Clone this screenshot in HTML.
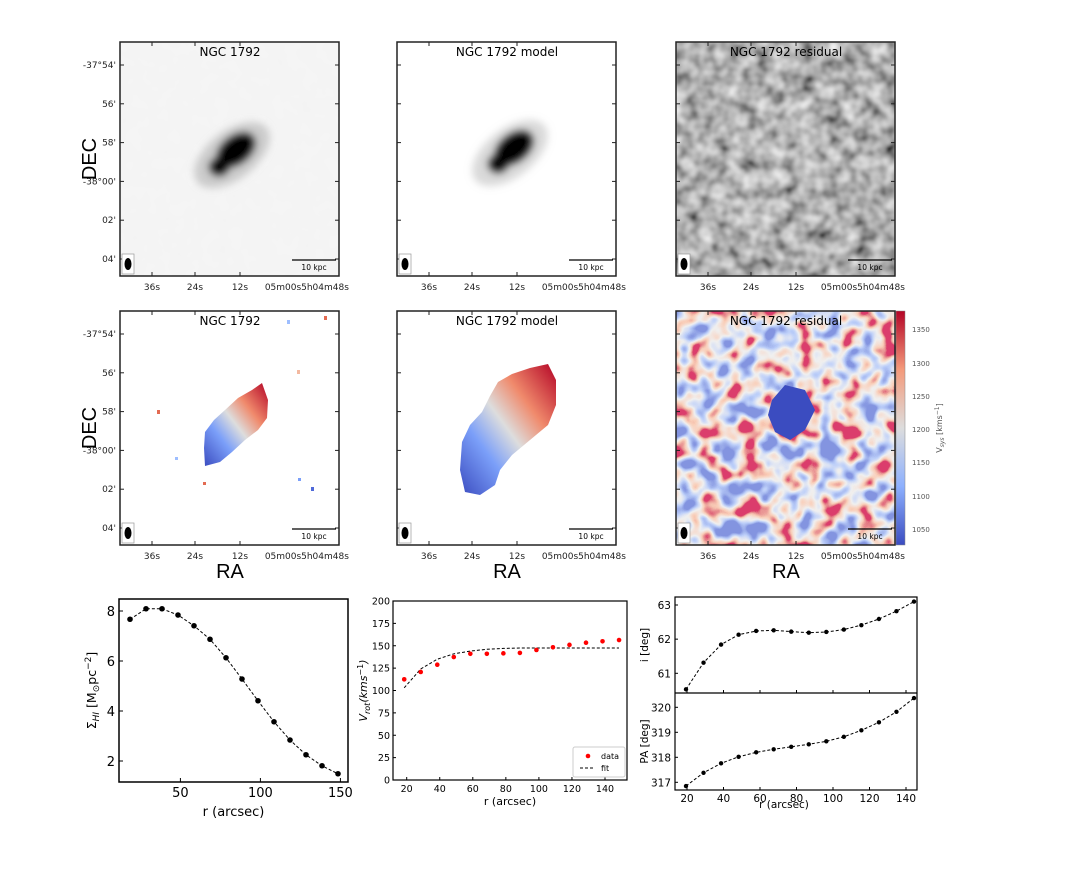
<!DOCTYPE html>
<html><head><meta charset="utf-8">
<style>
html,body{margin:0;padding:0;background:#fff;}
svg{display:block;font-family:"DejaVu Sans","Liberation Sans",sans-serif;}
</style></head>
<body>
<svg id="fig" width="1090" height="872" viewBox="0 0 1090 872" xmlns="http://www.w3.org/2000/svg">
<defs>
  <filter id="greyNoiseLight" x="0" y="0" width="100%" height="100%">
    <feTurbulence type="fractalNoise" baseFrequency="0.07" numOctaves="2" seed="3"/>
    <feColorMatrix type="matrix" values="0 0 0 0 0.92  0 0 0 0 0.92  0 0 0 0 0.92  -0.9 0 0 0 0.9"/>
  </filter>
  <filter id="greyNoise" x="0" y="0" width="100%" height="100%">
    <feTurbulence type="fractalNoise" baseFrequency="0.07" numOctaves="2" seed="7"/>
    <feColorMatrix type="matrix" values="1.1 0 0 0 -0.12  1.1 0 0 0 -0.12  1.1 0 0 0 -0.12  0 0 0 0 1"/>
    <feGaussianBlur stdDeviation="0.8"/>
  </filter>
  <filter id="velNoise" x="0" y="0" width="100%" height="100%">
    <feTurbulence type="fractalNoise" baseFrequency="0.05" numOctaves="2" seed="11"/>
    <feColorMatrix type="matrix" values="1 0 0 0 0  1 0 0 0 0  1 0 0 0 0  0 0 0 0 1"/>
    <feComponentTransfer>
      <feFuncR type="table" tableValues="0.23 0.23 0.23 0.23 0.5 0.87 0.95 0.71 0.71 0.71 0.71"/>
      <feFuncG type="table" tableValues="0.30 0.30 0.30 0.30 0.62 0.87 0.62 0.05 0.05 0.05 0.05"/>
      <feFuncB type="table" tableValues="0.75 0.75 0.75 0.75 0.95 0.87 0.48 0.15 0.15 0.15 0.15"/>
    </feComponentTransfer>
  </filter>
  <filter id="blur4"><feGaussianBlur stdDeviation="4"/></filter>
  <filter id="blur6"><feGaussianBlur stdDeviation="7"/></filter>
  <linearGradient id="velGrad" x1="0" y1="1" x2="1" y2="0">
    <stop offset="0" stop-color="#3b4cc0"/>
    <stop offset="0.3" stop-color="#7b9ff9"/>
    <stop offset="0.5" stop-color="#dddddd"/>
    <stop offset="0.7" stop-color="#f08a6c"/>
    <stop offset="1" stop-color="#b40426"/>
  </linearGradient>
  <linearGradient id="cbarGrad" x1="0" y1="1" x2="0" y2="0">
    <stop offset="0" stop-color="#3b4cc0"/>
    <stop offset="0.25" stop-color="#8db0fe"/>
    <stop offset="0.5" stop-color="#dddddd"/>
    <stop offset="0.75" stop-color="#f49a7b"/>
    <stop offset="1" stop-color="#b40426"/>
  </linearGradient>
  <clipPath id="cTL"><rect x="120" y="42" width="219" height="234"/></clipPath>
  <clipPath id="cTM"><rect x="397" y="42" width="219" height="234"/></clipPath>
  <clipPath id="cTR"><rect x="676" y="42" width="219" height="234"/></clipPath>
  <clipPath id="cMR"><rect x="676" y="311" width="220" height="234"/></clipPath>
</defs>

<g>
  <rect x="120" y="42" width="219" height="234" fill="#f3f3f3"/>
  <rect x="120" y="42" width="219" height="234" filter="url(#greyNoiseLight)"/>
  <g clip-path="url(#cTL)" filter="url(#blur4)">
    <ellipse cx="232" cy="155" rx="44" ry="24" transform="rotate(-38 232 155)" fill="#aaa" opacity="0.55"/>
    <ellipse cx="236" cy="150" rx="22" ry="14" transform="rotate(-38 236 150)" fill="#000"/>
    <ellipse cx="219" cy="167" rx="10" ry="9" fill="#000"/>
  </g>
</g>
<g>
  <rect x="397" y="42" width="219" height="234" fill="#fff"/>
  <g clip-path="url(#cTM)" filter="url(#blur4)">
    <ellipse cx="510" cy="153" rx="44" ry="24" transform="rotate(-38 510 153)" fill="#aaa" opacity="0.45"/>
    <ellipse cx="514" cy="148" rx="22" ry="14" transform="rotate(-38 514 148)" fill="#000"/>
    <ellipse cx="498" cy="164" rx="10" ry="9" fill="#000"/>
  </g>
</g>
<g>
  <rect x="676" y="42" width="219" height="234" filter="url(#greyNoise)"/>
  <ellipse cx="770" cy="170" rx="70" ry="45" transform="rotate(-30 770 170)" fill="#fff" opacity="0.12" filter="url(#blur6)" clip-path="url(#cTR)"/>
</g>

<g>
  <rect x="120" y="311" width="219" height="234" fill="#fff"/>
  <path d="M204,448 L205,432 L214,420 L225,410 L238,398 L252,390 L262,383 L268,400 L267,418 L258,430 L245,440 L232,452 L220,462 L205,466 Z" fill="url(#velGrad)"/>
  <rect x="157" y="410" width="3" height="4" fill="#e36b52"/>
  <rect x="297" y="370" width="3" height="4" fill="#f3b9a0"/>
  <rect x="203" y="482" width="3" height="3" fill="#e36b52"/>
  <rect x="311" y="487" width="3" height="4" fill="#4f69d9"/>
  <rect x="298" y="478" width="3" height="3" fill="#7b9ff9"/>
  <rect x="324" y="316" width="3" height="4" fill="#e36b52"/>
  <rect x="287" y="320" width="3" height="4" fill="#9ebeff"/>
  <rect x="175" y="457" width="3" height="3" fill="#9ebeff"/>
</g>
<g>
  <rect x="397" y="311" width="219" height="234" fill="#fff"/>
  <path d="M460,470 L462,442 L470,425 L482,412 L490,396 L498,382 L512,374 L530,368 L548,364 L556,380 L556,405 L548,425 L530,440 L512,455 L500,470 L495,485 L480,495 L465,492 Z" fill="url(#velGrad)"/>
</g>
<g>
  <rect x="676" y="311" width="220" height="234" filter="url(#velNoise)"/>
  <path d="M772,400 L785,385 L805,390 L815,410 L805,430 L790,440 L775,432 L768,415 Z" fill="#3b4cc0" clip-path="url(#cMR)"/>
</g>
<g>
  <rect x="896" y="311" width="9" height="234" fill="url(#cbarGrad)" stroke="#888" stroke-width="0.5"/>
  <g font-size="7" fill="#555">
    <text x="912" y="532">1050</text><text x="912" y="499">1100</text><text x="912" y="465">1150</text>
    <text x="912" y="432">1200</text><text x="912" y="399">1250</text><text x="912" y="366">1300</text>
    <text x="912" y="332">1350</text>
  </g>
  <text transform="translate(942,428) rotate(-90)" font-size="8" fill="#555" text-anchor="middle">V<tspan font-size="6" dy="2" font-style="italic">sys</tspan><tspan dy="-2"> [kms</tspan><tspan font-size="6" dy="-3">−1</tspan><tspan dy="3">]</tspan></text>
</g>

<g id="mapDecor"></g>
<g id="bottomCharts"></g>
</svg>

<script>
const radii = [18.5, 28.5, 38.5, 48.5, 58.5, 68.5, 78.5, 88.5, 98.5, 108.5, 118.5, 128.5, 138.5, 148.5];
const sigmaHI = [7.67, 8.09, 8.09, 7.84, 7.41, 6.87, 6.13, 5.28, 4.41, 3.57, 2.84, 2.25, 1.81, 1.49];
const vrotData = [112.5, 120.7, 128.8, 137.4, 141.0, 141.0, 141.5, 142.0, 145.3, 148.3, 151.0, 153.4, 155.0, 156.4];
const vrotFit = [103, 124, 135, 141, 144, 146, 147, 147.5, 147.5, 147.5, 147.5, 147.5, 147.5, 147.5];
const inclination = [60.53, 61.31, 61.84, 62.13, 62.24, 62.26, 62.22, 62.19, 62.21, 62.28, 62.41, 62.59, 62.82, 63.1];
const posAngle = [316.85, 317.38, 317.76, 318.02, 318.2, 318.32, 318.42, 318.52, 318.64, 318.82, 319.08, 319.4, 319.82, 320.37];
const sigmaTicks = [2, 4, 6, 8];
const sigmaXTicks = [50, 100, 150];
const vrotTicks = [0, 25, 50, 75, 100, 125, 150, 175, 200];
const rTicks = [20, 40, 60, 80, 100, 120, 140];
const incTicks = [61, 62, 63];
const paTicks = [317, 318, 319, 320];
const decLabels = ["-37°54'", "56'", "58'", "-38°00'", "02'", "04'"];
const raLabels = ["36s", "24s", "12s", "05m00s", "5h04m48s"];
const mapTitles = ["NGC 1792", "NGC 1792 model", "NGC 1792 residual"];

const NS = "http://www.w3.org/2000/svg";
function mk(tag, attrs, parent, text) {
  const e = document.createElementNS(NS, tag);
  for (const k in attrs) e.setAttribute(k, attrs[k]);
  if (text !== undefined) e.textContent = text;
  parent.appendChild(e);
  return e;
}
function lin(d0, d1, p0, p1) { return v => p0 + (v - d0) * (p1 - p0) / (d1 - d0); }

const deco = document.getElementById('mapDecor');
const colsX = [120, 397, 676];
const rowsY = [42, 311];
const decY = lin(0, 5, 65, 259);
const raX = [32, 75, 120, 163, 205];
rowsY.forEach((y0, ri) => {
  colsX.forEach((x0, ci) => {
    const g = mk('g', {}, deco);
    
    
    mk('rect', {x: x0, y: y0, width: 219, height: 234, fill: 'none', stroke: '#222', 'stroke-width': 1.5}, g);
    const t = mk('text', {x: x0 + 110, y: y0 + 14, 'font-size': 12, 'text-anchor': 'middle', fill: '#000'}, g, mapTitles[ci]);
    
    
    decLabels.forEach((lab, i) => {
      const yy = decY(i) - 65 + y0 + 23;
      mk('line', {x1: x0, x2: x0 + 4, y1: yy, y2: yy, stroke: '#222'}, g);
      mk('line', {x1: x0 + 219, x2: x0 + 215, y1: yy, y2: yy, stroke: '#222'}, g);
      if (ci === 0) {
        const tl = mk('text', {x: x0 - 4, y: yy + 3, 'font-size': 9, 'text-anchor': 'end', fill: '#222'}, g, lab);
        
        
      }
    });
    raLabels.forEach((lab, i) => {
      const xx = x0 + raX[i];
      if (i < 3) {
        mk('line', {x1: xx, x2: xx, y1: y0 + 234, y2: y0 + 230, stroke: '#222'}, g);
        mk('line', {x1: xx, x2: xx, y1: y0, y2: y0 + 4, stroke: '#222'}, g);
      }
      const tl = mk('text', {x: xx, y: y0 + 248, 'font-size': 9, 'text-anchor': 'middle', fill: '#222'}, g, lab);
      
      
    });
    mk('rect', {x: x0 + 2, y: y0 + 212, width: 12, height: 20, fill: '#fff', stroke: '#999', 'stroke-width': 0.7}, g);
    mk('ellipse', {cx: x0 + 8, cy: y0 + 222, rx: 3.5, ry: 6, fill: '#000'}, g);
    mk('line', {x1: x0 + 172, x2: x0 + 216, y1: y0 + 218, y2: y0 + 218, stroke: '#000', 'stroke-width': 1.2}, g);
    mk('text', {x: x0 + 194, y: y0 + 228, 'font-size': 7.5, 'text-anchor': 'middle', fill: '#000'}, g, '10 kpc');
  });
  const dl = mk('text', {transform: `translate(96,${y0 + 117}) rotate(-90)`, 'font-size': 20, 'text-anchor': 'middle', fill: '#000', 'font-family': 'Liberation Sans, sans-serif'}, deco, 'DEC');
  
  
});
colsX.forEach(x0 => {
  const t = mk('text', {x: x0 + 110, y: 578, 'font-size': 20, 'text-anchor': 'middle', fill: '#000', 'font-family': 'Liberation Sans, sans-serif'}, deco, 'RA');
  
  
});

const bc = document.getElementById('bottomCharts');
function dashedLine(g, xs, ys, xf, yf) {
  const d = xs.map((v, i) => (i ? 'L' : 'M') + xf(v).toFixed(1) + ',' + yf(ys[i]).toFixed(1)).join(' ');
  return mk('path', {d: d, fill: 'none', stroke: '#000', 'stroke-width': 1, 'stroke-dasharray': '3,2'}, g);
}

// Panel 1
{
  const g = mk('g', {}, bc);
  
  
  const L = 119, R = 348, T = 599, B = 782;
  const x = lin(18.5, 148.5, 130, 338);
  const y = lin(2, 8, 761, 611);
  mk('rect', {x: L, y: T, width: R - L, height: B - T, fill: 'none', stroke: '#000', 'stroke-width': 1.5}, g);
  sigmaTicks.forEach(v => {
    mk('line', {x1: L, x2: L + 4, y1: y(v), y2: y(v), stroke: '#000'}, g);
    mk('text', {x: L - 4, y: y(v) + 5, 'font-size': 13, 'text-anchor': 'end'}, g, v);
  });
  sigmaXTicks.forEach(v => {
    mk('line', {x1: x(v), x2: x(v), y1: B, y2: B - 4, stroke: '#000'}, g);
    mk('text', {x: x(v), y: B + 15, 'font-size': 13, 'text-anchor': 'middle'}, g, v);
  });
  const ln = dashedLine(g, radii, sigmaHI, x, y);
  
  
  radii.forEach((r, i) => {
    const c = mk('circle', {cx: x(r), cy: y(sigmaHI[i]), r: 2.8, fill: '#000'}, g);
    
    
  });
  mk('text', {x: (L + R) / 2, y: 816, 'font-size': 13, 'text-anchor': 'middle'}, g, 'r (arcsec)');
  const yl = mk('text', {transform: `translate(96,${(T + B) / 2}) rotate(-90)`, 'font-size': 12.5, 'text-anchor': 'middle'}, g);
  yl.innerHTML = 'Σ<tspan font-size="9" dy="3" font-style="italic">HI</tspan><tspan dy="-3"> [M</tspan><tspan font-size="9" dy="3">⊙</tspan><tspan dy="-3">pc</tspan><tspan font-size="9" dy="-5">−2</tspan><tspan dy="5">]</tspan>';
}

// Panel 2
{
  const g = mk('g', {}, bc);
  
  
  const L = 393, R = 627, T = 601, B = 780;
  const x = lin(20, 140, 406.7, 605);
  const y = lin(0, 200, 780, 601);
  mk('rect', {x: L, y: T, width: R - L, height: B - T, fill: 'none', stroke: '#000', 'stroke-width': 1.2}, g);
  vrotTicks.forEach(v => {
    mk('line', {x1: L, x2: L + 3, y1: y(v), y2: y(v), stroke: '#000'}, g);
    mk('text', {x: L - 3, y: y(v) + 3.5, 'font-size': 9.5, 'text-anchor': 'end'}, g, v);
  });
  rTicks.forEach(v => {
    mk('line', {x1: x(v), x2: x(v), y1: B, y2: B - 3, stroke: '#000'}, g);
    mk('text', {x: x(v), y: B + 12, 'font-size': 9.5, 'text-anchor': 'middle'}, g, v);
  });
  const fl = dashedLine(g, radii, vrotFit, x, y);
  
  
  radii.forEach((r, i) => {
    const c = mk('circle', {cx: x(r), cy: y(vrotData[i]), r: 2.3, fill: '#f00'}, g);
    
    
  });
  mk('text', {x: (L + R) / 2, y: 805, 'font-size': 11, 'text-anchor': 'middle'}, g, 'r (arcsec)');
  const yl = mk('text', {transform: `translate(367,${(T + B) / 2}) rotate(-90)`, 'font-size': 11, 'text-anchor': 'middle'}, g);
  yl.innerHTML = '<tspan font-style="italic">V</tspan><tspan font-size="8" dy="3" font-style="italic">rot</tspan><tspan dy="-3" font-style="italic">(kms</tspan><tspan font-size="8" dy="-4">−1</tspan><tspan dy="4" font-style="italic">)</tspan>';
  const lg = mk('g', {}, g);
  
  
  mk('rect', {x: 573, y: 747, width: 52, height: 30, fill: '#fff', stroke: '#ccc', rx: 2}, lg);
  mk('circle', {cx: 588, cy: 756, r: 2.3, fill: '#f00'}, lg);
  mk('text', {x: 601, y: 759, 'font-size': 8}, lg, 'data');
  mk('line', {x1: 580, x2: 594, y1: 768, y2: 768, stroke: '#000', 'stroke-dasharray': '3,2'}, lg);
  mk('text', {x: 601, y: 771, 'font-size': 8}, lg, 'fit');
}

// Panel 3
{
  const g = mk('g', {}, bc);
  
  
  const L = 675, R = 917, T = 597, M = 693, B = 790;
  const x = lin(18.5, 148.5, 686, 914);
  const xt = lin(20, 140, 687, 906);
  const yi = lin(61, 63, 673.3, 605);
  const yp = lin(317, 320, 782.3, 707.3);
  mk('rect', {x: L, y: T, width: R - L, height: B - T, fill: 'none', stroke: '#000', 'stroke-width': 1.2}, g);
  mk('line', {x1: L, x2: R, y1: M, y2: M, stroke: '#000', 'stroke-width': 1.2}, g);
  incTicks.forEach(v => {
    mk('line', {x1: L, x2: L + 3, y1: yi(v), y2: yi(v), stroke: '#000'}, g);
    mk('text', {x: L - 4, y: yi(v) + 4, 'font-size': 10.5, 'text-anchor': 'end'}, g, v);
  });
  paTicks.forEach(v => {
    mk('line', {x1: L, x2: L + 3, y1: yp(v), y2: yp(v), stroke: '#000'}, g);
    mk('text', {x: L - 4, y: yp(v) + 4, 'font-size': 10.5, 'text-anchor': 'end'}, g, v);
  });
  rTicks.forEach(v => {
    mk('line', {x1: xt(v), x2: xt(v), y1: B, y2: B - 3, stroke: '#000'}, g);
    mk('line', {x1: xt(v), x2: xt(v), y1: M, y2: M - 3, stroke: '#000'}, g);
    mk('text', {x: xt(v), y: B + 12, 'font-size': 10.5, 'text-anchor': 'middle'}, g, v);
  });
  const l1 = dashedLine(g, radii, inclination, x, yi);
  
  
  const l2 = dashedLine(g, radii, posAngle, x, yp);
  
  
  radii.forEach((r, i) => {
    const c = mk('circle', {cx: x(r), cy: yi(inclination[i]), r: 2.2, fill: '#000'}, g);
    
    
    const c2 = mk('circle', {cx: x(r), cy: yp(posAngle[i]), r: 2.2, fill: '#000'}, g);
    
    
  });
  mk('text', {x: 784, y: 808, 'font-size': 10.5, 'text-anchor': 'middle'}, g, 'r (arcsec)');
  mk('text', {transform: `translate(648,${(T + M) / 2}) rotate(-90)`, 'font-size': 10.5, 'text-anchor': 'middle'}, g, 'i [deg]');
  mk('text', {transform: `translate(648,${(M + B) / 2}) rotate(-90)`, 'font-size': 10.5, 'text-anchor': 'middle'}, g, 'PA [deg]');
}
</script>
</body></html>
